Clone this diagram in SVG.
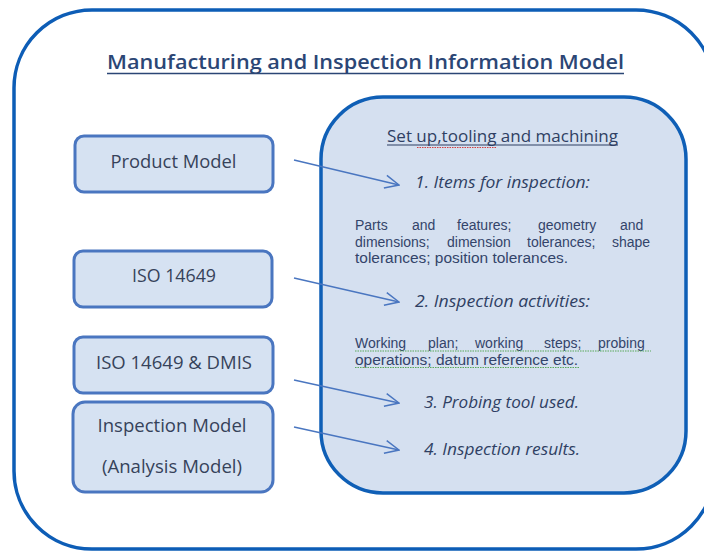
<svg xmlns="http://www.w3.org/2000/svg" width="704" height="552" viewBox="0 0 704 552">
<style>
.src rect{fill:#d6e2f2;stroke:#4a76c0;stroke-width:3}
.lbl{font-family:"Open Sans","Liberation Sans",sans-serif;font-size:18px;fill:#36425a;text-anchor:middle}
.hd{font-family:"Open Sans","Liberation Sans",sans-serif;font-size:16px;font-style:italic;fill:#2f3f63;text-anchor:middle}
.para{font-family:"Liberation Sans","Open Sans",sans-serif;font-size:14px;fill:#33446a}
.conn line{stroke:#4a76c0;stroke-width:1.5;marker-end:url(#arr)}
</style>
<defs>
<marker id="arr" viewBox="0 0 16 16" refX="15" refY="8" markerWidth="16" markerHeight="16" markerUnits="userSpaceOnUse" orient="auto">
<path d="M1,1.5 L15,8 L1,14.5" fill="none" stroke="#4a76c0" stroke-width="1.5"/>
</marker>
</defs>
<rect width="704" height="552" fill="#ffffff"/>
<g id="frame">
<rect x="14" y="10" width="700" height="539" rx="78" fill="#ffffff" stroke="#0d5db6" stroke-width="3.5"/>
<text x="365.5" y="69" font-family="'Open Sans','Liberation Sans',sans-serif" font-size="20" font-weight="600" fill="#2b4675" text-anchor="middle" textLength="517" lengthAdjust="spacingAndGlyphs">Manufacturing and Inspection Information Model</text>
<line x1="107" y1="73.5" x2="624" y2="73.5" stroke="#2b4675" stroke-width="1.5"/>
</g>
<g id="target">
<rect x="321" y="97" width="365" height="396" rx="62" fill="#d5e0f0" stroke="#0f5fb6" stroke-width="3.5"/>
<text x="502.5" y="142" font-family="'Open Sans','Liberation Sans',sans-serif" font-size="16" fill="#2f3f63" text-anchor="middle" textLength="231" lengthAdjust="spacingAndGlyphs">Set up,tooling and machining</text>
<line x1="387" y1="145" x2="618" y2="145" stroke="#2f3f63" stroke-width="1.2"/>
<line x1="417" y1="147.5" x2="497" y2="147.5" stroke="#d04040" stroke-width="1" stroke-dasharray="1.5,1"/>
<text class="hd" x="502.5" y="188" textLength="175" lengthAdjust="spacingAndGlyphs">1. Items for inspection:</text>
<text class="para" y="230"><tspan x="355">Parts</tspan><tspan x="412">and</tspan><tspan x="457">features;</tspan><tspan x="538">geometry</tspan><tspan x="620">and</tspan></text>
<text class="para" y="246.5"><tspan x="355">dimensions;</tspan><tspan x="447">dimension</tspan><tspan x="527">tolerances;</tspan><tspan x="612">shape</tspan></text>
<text class="para" x="355" y="263" textLength="213" lengthAdjust="spacingAndGlyphs">tolerances; position tolerances.</text>
<text class="hd" x="502.5" y="307" textLength="175" lengthAdjust="spacingAndGlyphs">2. Inspection activities:</text>
<text class="para" y="348"><tspan x="355">Working</tspan><tspan x="428">plan;</tspan><tspan x="475">working</tspan><tspan x="544">steps;</tspan><tspan x="598">probing</tspan></text>
<text class="para" x="355" y="364.5" textLength="223" lengthAdjust="spacingAndGlyphs">operations; datum reference etc.</text>
<line x1="355" y1="351" x2="651" y2="351" stroke="#5aa85a" stroke-width="1" stroke-dasharray="1.5,1"/>
<line x1="355" y1="367.5" x2="579" y2="367.5" stroke="#5aa85a" stroke-width="1" stroke-dasharray="1.5,1"/>
<text class="hd" x="501.5" y="408" textLength="155" lengthAdjust="spacingAndGlyphs">3. Probing tool used.</text>
<text class="hd" x="502" y="455" textLength="156" lengthAdjust="spacingAndGlyphs">4. Inspection results.</text>
</g>
<g id="product-model" class="src">
<rect x="75" y="136" width="198" height="56" rx="9"/>
<text class="lbl" x="173.5" y="168" textLength="126" lengthAdjust="spacingAndGlyphs">Product Model</text>
</g>
<g id="iso14649" class="src">
<rect x="74" y="251" width="198" height="56" rx="9"/>
<text class="lbl" x="174" y="282" textLength="84" lengthAdjust="spacingAndGlyphs">ISO 14649</text>
</g>
<g id="iso14649-dmis" class="src">
<rect x="74" y="337" width="199" height="56" rx="9"/>
<text class="lbl" x="174" y="369" textLength="156" lengthAdjust="spacingAndGlyphs">ISO 14649 &amp; DMIS</text>
</g>
<g id="inspection-model" class="src">
<rect x="73" y="402" width="200" height="90" rx="12"/>
<text class="lbl" x="172" y="432" textLength="149" lengthAdjust="spacingAndGlyphs">Inspection Model</text>
<text class="lbl" x="172" y="473" textLength="140" lengthAdjust="spacingAndGlyphs">(Analysis Model)</text>
</g>
<g id="connectors" class="conn">
<line x1="294" y1="160" x2="399" y2="185"/>
<line x1="294" y1="278" x2="399" y2="302"/>
<line x1="294" y1="380" x2="399" y2="403"/>
<line x1="294" y1="427" x2="399" y2="450"/>
</g>
</svg>
